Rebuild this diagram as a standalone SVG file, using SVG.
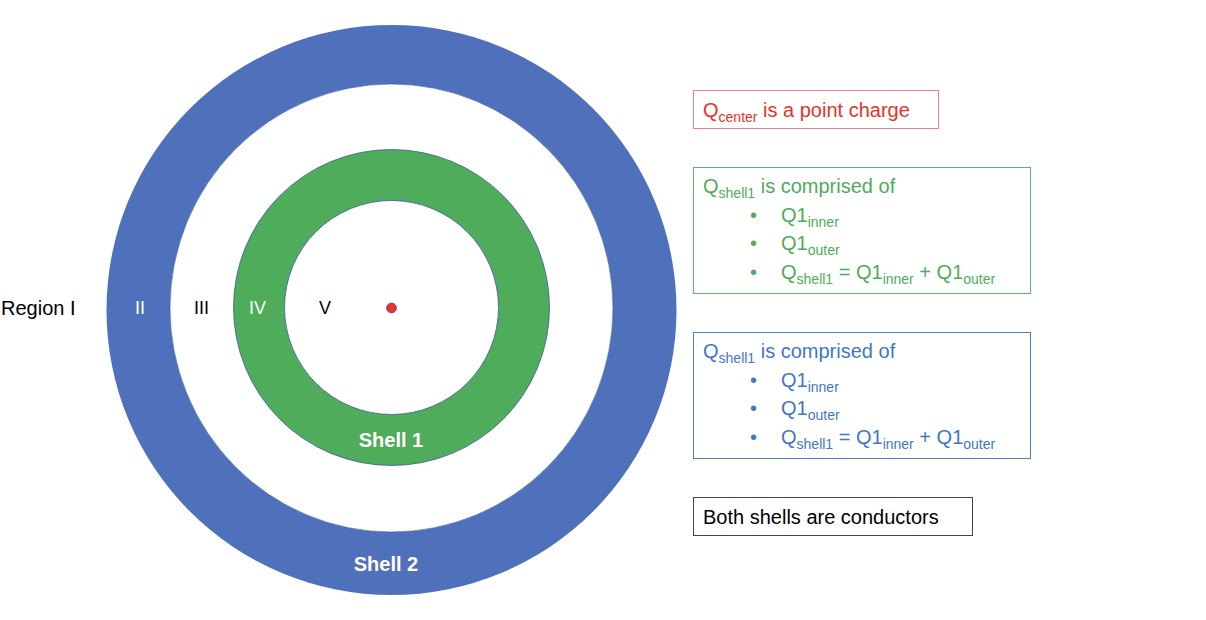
<svg xmlns="http://www.w3.org/2000/svg" width="1206" height="620" viewBox="0 0 1206 620">
<style>
text{font-family:"Liberation Sans",Arial,sans-serif;font-size:20px}
.sub{font-size:14px}
.lbl{font-size:18px}
.w{fill:#fff}
.b{font-weight:bold}
.red{fill:#e8322a}
.grn{fill:#4eac5b}
.blu{fill:#3f78c4}
</style>
<rect width="1206" height="620" fill="#fff"/>
<g id="shell2">
<circle cx="391.5" cy="310" r="285" fill="#4f70bb"/>
<ellipse cx="391.5" cy="308" rx="221.5" ry="224" fill="#fff" stroke="#3d5a9a" stroke-width="0.6"/>
<text class="w b" x="386" y="571" text-anchor="middle">Shell 2</text>
</g>
<g id="shell1">
<circle cx="391.5" cy="307.5" r="158" fill="#4eac5b" stroke="#3d5a9a" stroke-width="0.8"/>
<circle cx="391.5" cy="307.5" r="107" fill="#fff" stroke="#3d5a9a" stroke-width="0.8"/>
<text class="w b" x="391" y="447" text-anchor="middle">Shell 1</text>
</g>
<g id="charge"><circle cx="391.5" cy="308" r="5" fill="#e8322a" stroke="#3d5a9a" stroke-width="0.8"/></g>
<g id="regions">
<text x="1" y="315">Region I</text>
<text class="lbl w" x="135" y="314">II</text>
<text class="lbl" x="194" y="314">III</text>
<text class="lbl w" x="249" y="314">IV</text>
<text class="lbl" x="319" y="314">V</text>
</g>
<g id="box-center">
<rect x="693.5" y="90.5" width="245" height="38" fill="none" stroke="#f08080"/>
<text class="red" x="703" y="117">Q<tspan class="sub" dy="5">center</tspan><tspan dy="-5"> is a point charge</tspan></text>
</g>
<g id="box-green">
<rect x="693.5" y="167.5" width="337" height="126" fill="none" stroke="#5cb86a"/>
<text class="grn" x="703" y="193">Q<tspan class="sub" dy="5">shell1</tspan><tspan dy="-5"> is comprised of</tspan></text>
<text class="grn" x="750" y="222">•</text><text class="grn" x="781" y="222">Q1<tspan class="sub" dy="5">inner</tspan></text>
<text class="grn" x="750" y="250">•</text><text class="grn" x="781" y="250">Q1<tspan class="sub" dy="5">outer</tspan></text>
<text class="grn" x="750" y="279">•</text><text class="grn" x="781" y="279">Q<tspan class="sub" dy="5">shell1</tspan><tspan dy="-5"> = Q1</tspan><tspan class="sub" dy="5">inner</tspan><tspan dy="-5"> + Q1</tspan><tspan class="sub" dy="5">outer</tspan></text>
</g>
<g id="box-blue">
<rect x="693.5" y="332.5" width="337" height="126" fill="none" stroke="#4a7fc8"/>
<text class="blu" x="703" y="358">Q<tspan class="sub" dy="5">shell1</tspan><tspan dy="-5"> is comprised of</tspan></text>
<text class="blu" x="750" y="387">•</text><text class="blu" x="781" y="387">Q1<tspan class="sub" dy="5">inner</tspan></text>
<text class="blu" x="750" y="415">•</text><text class="blu" x="781" y="415">Q1<tspan class="sub" dy="5">outer</tspan></text>
<text class="blu" x="750" y="444">•</text><text class="blu" x="781" y="444">Q<tspan class="sub" dy="5">shell1</tspan><tspan dy="-5"> = Q1</tspan><tspan class="sub" dy="5">inner</tspan><tspan dy="-5"> + Q1</tspan><tspan class="sub" dy="5">outer</tspan></text>
</g>
<g id="box-note">
<rect x="693.5" y="497.5" width="279" height="38" fill="none" stroke="#444"/>
<text x="703" y="524">Both shells are conductors</text>
</g>
<g id="connectors"></g>
</svg>
